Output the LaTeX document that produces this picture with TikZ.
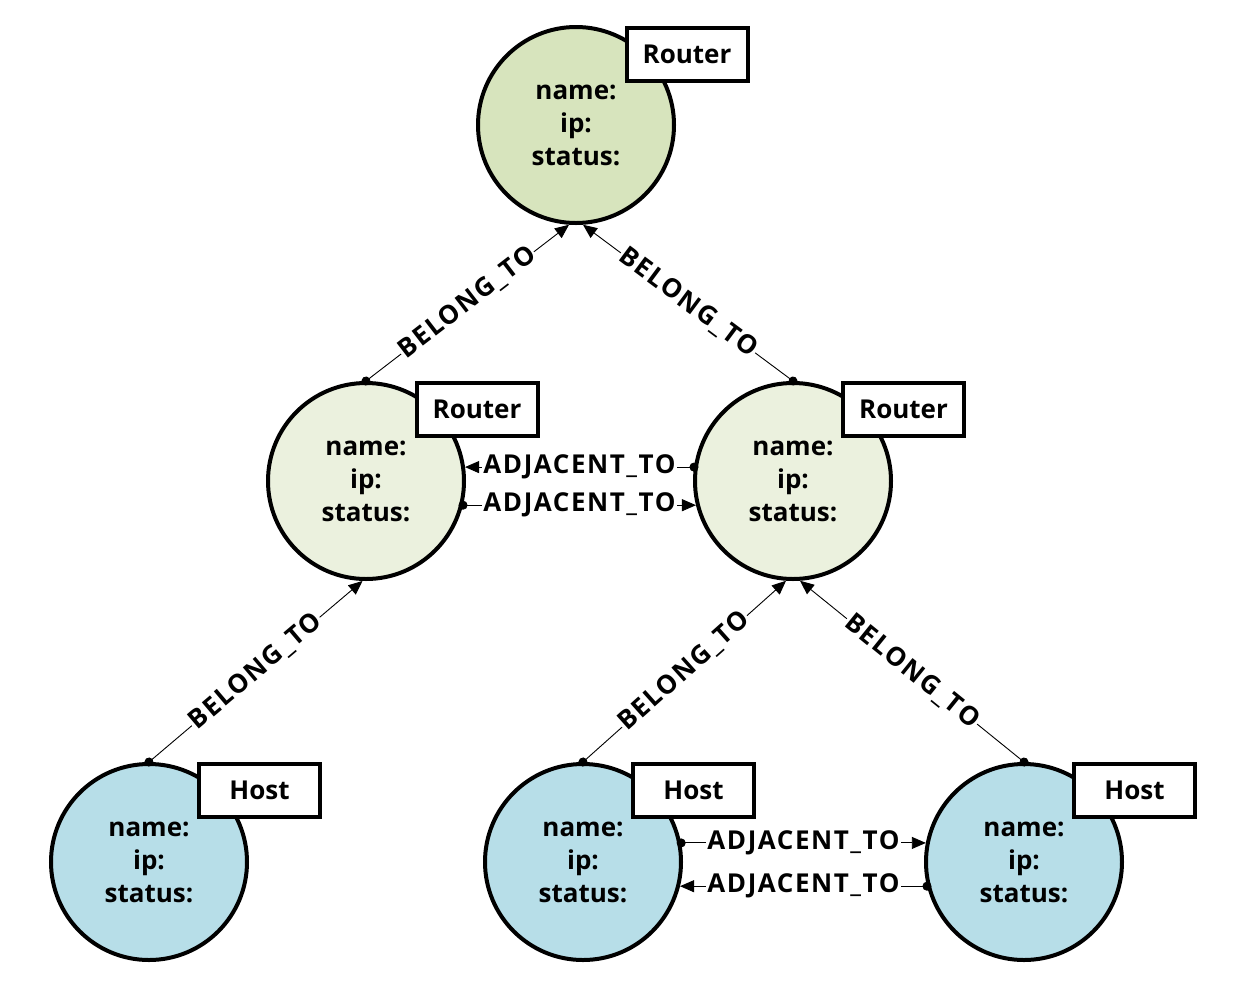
\documentclass[tikz,border=0pt]{standalone}
\usepackage{fontspec}
\setmainfont{Open Sans}
\usetikzlibrary{arrows.meta}
\definecolor{rtop}{HTML}{D7E4BD}
\definecolor{rmid}{HTML}{EBF1DE}
\definecolor{hostc}{HTML}{B7DEE8}
\begin{document}
\begin{tikzpicture}[x=1pt,y=-1pt,
  tfont/.style={font=\bfseries\fontsize{26}{33}\selectfont},
  efont/.style={font=\bfseries\fontsize{26}{33}\selectfont\addfontfeatures{LetterSpace=6}},
  nodecirc/.style={circle, draw, line width=4pt, minimum size=196pt, inner sep=0pt},
  tagbox/.style={draw, fill=white, line width=4pt, minimum width=121pt, minimum height=53pt, inner sep=0pt, tfont},
  props/.style={align=center, tfont},
  rel/.style={line width=0.9pt, {Circle[length=9pt]}-{Triangle[length=14pt,width=12pt]}, shorten <=-4.5pt},
  rlab/.style={fill=white, inner sep=1pt, efont, sloped},
  hlab/.style={fill=white, inner sep=1pt, efont}]
\useasboundingbox (0,0) rectangle (1235,989);
% circles
\node[nodecirc, fill=rtop] (tr) at (576,125) {};
\node[nodecirc, fill=rmid] (ml) at (366,481) {};
\node[nodecirc, fill=rmid] (mr) at (793,481) {};
\node[nodecirc, fill=hostc] (h1) at (149,862) {};
\node[nodecirc, fill=hostc] (h2) at (583,862) {};
\node[nodecirc, fill=hostc] (h3) at (1024,862) {};
% properties
\node[props] (ptr) at (576,125) {name:\\ip:\\status:};
\node[props] (pml) at (366,481) {name:\\ip:\\status:};
\node[props] (pmr) at (793,481) {name:\\ip:\\status:};
\node[props] (ph1) at (149,862) {name:\\ip:\\status:};
\node[props] (ph2) at (583,862) {name:\\ip:\\status:};
\node[props] (ph3) at (1024,862) {name:\\ip:\\status:};
% tags
\node[tagbox] (ttr) at (687,54) {Router};
\node[tagbox] (tml) at (477,409.5) {Router};
\node[tagbox] (tmr) at (903.5,409.5) {Router};
\node[tagbox] (th1) at (259.5,790.5) {Host};
\node[tagbox] (th2) at (693.5,790.5) {Host};
\node[tagbox] (th3) at (1134.5,790.5) {Host};
% belong_to
\draw[rel] (ml.90) -- node[rlab] {BELONG\_TO} (tr.-94);
\draw[rel] (mr.90) -- node[rlab] {BELONG\_TO} (tr.-86);
\draw[rel] (h1.90) -- node[rlab] {BELONG\_TO} (ml.-92);
\draw[rel] (h2.90) -- node[rlab] {BELONG\_TO} (mr.-94);
\draw[rel] (h3.90) -- node[rlab] {BELONG\_TO} (mr.-86);
% adjacent_to
\draw[rel] (mr.172) -- node[hlab] {ADJACENT\_TO} (ml.8);
\draw[rel] (ml.-14) -- node[hlab] {ADJACENT\_TO} (mr.194);
\draw[rel] (h2.11) -- node[hlab] {ADJACENT\_TO} (h3.169);
\draw[rel] (h3.194) -- node[hlab] {ADJACENT\_TO} (h2.-14);
\end{tikzpicture}
\end{document}
